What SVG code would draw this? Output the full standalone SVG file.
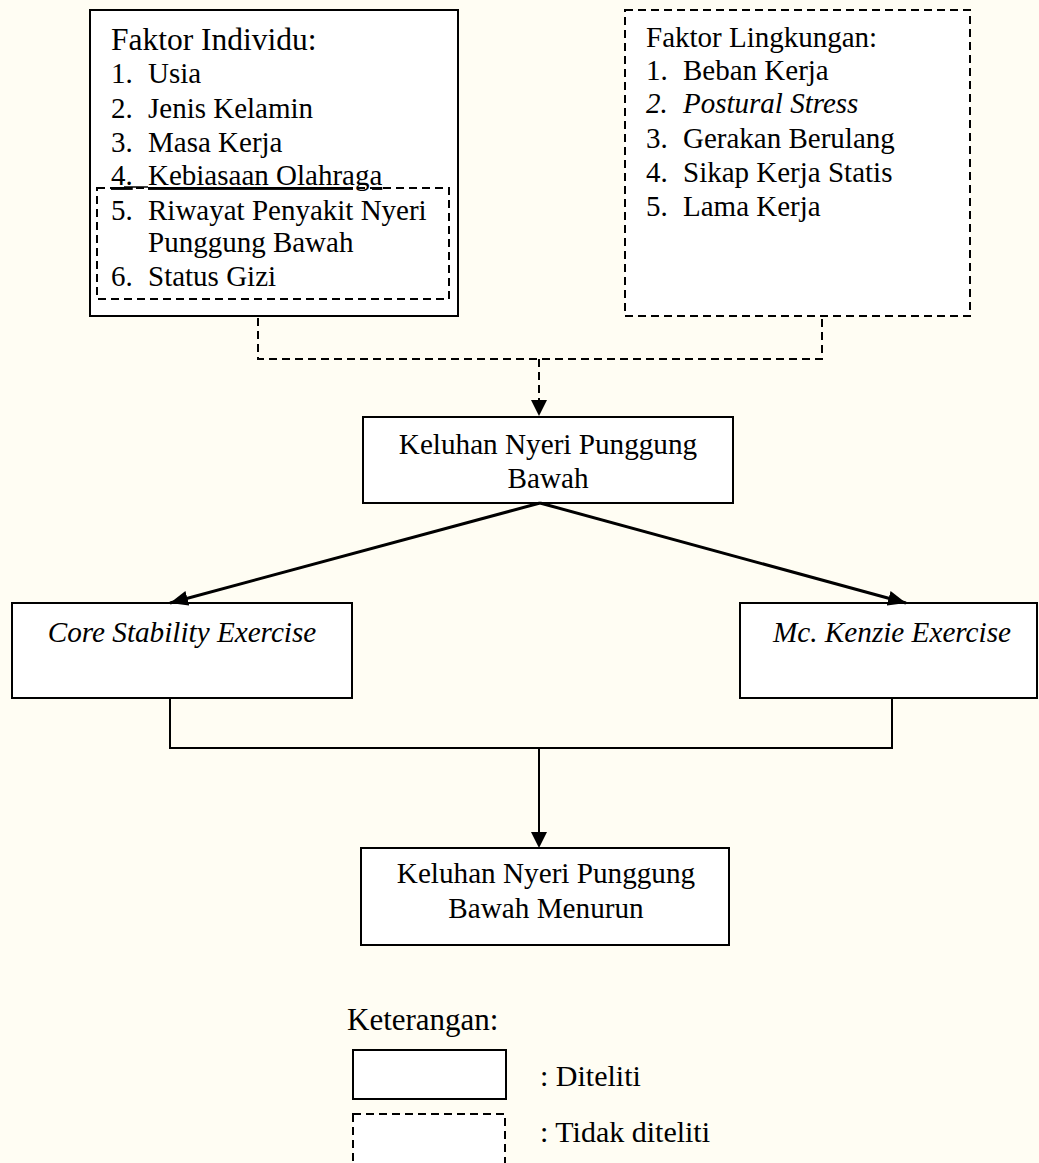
<svg xmlns="http://www.w3.org/2000/svg" width="1039" height="1163" viewBox="0 0 1039 1163">
<defs>
<marker id="ah" markerWidth="18" markerHeight="15" refX="18" refY="7.5" orient="auto" markerUnits="userSpaceOnUse"><path d="M0,0 L18,7.5 L0,15 Z" fill="#000"/></marker>
</defs>
<style>
.t{font-family:"Liberation Serif","Times New Roman",serif;fill:#000;font-size:29px}
.c{text-anchor:middle;font-size:29.2px}
.i{font-style:italic}
.box{fill:#fff;stroke:#000;stroke-width:2}
.dbox{fill:#fff;stroke:#000;stroke-width:2;stroke-dasharray:8 5}
.din{fill:none;stroke:#000;stroke-width:2;stroke-dasharray:8 5}
.dline{fill:none;stroke:#000;stroke-width:2;stroke-dasharray:8 5}
.line{fill:none;stroke:#000;stroke-width:2}
.arr{fill:none;stroke:#000;stroke-width:3}
</style>
<rect width="1039" height="1163" fill="#fffdf3"/>

<g id="faktor-individu">
<rect class="box" x="90" y="10" width="368" height="306"/>
<text class="t" x="111" y="50" style="font-size:31.5px">Faktor Individu:</text>
<text class="t" x="111" y="83">1.</text><text class="t" x="148" y="83">Usia</text>
<text class="t" x="111" y="118">2.</text><text class="t" x="148" y="118">Jenis Kelamin</text>
<text class="t" x="111" y="152">3.</text><text class="t" x="148" y="152">Masa Kerja</text>
<text class="t" x="111" y="185" text-decoration="underline">4.<tspan x="148">Kebiasaan Olahraga</tspan></text>
<line x1="124" y1="187" x2="148" y2="187" stroke="#000" stroke-width="1.5"/>
<text class="t" x="111" y="220">5.</text><text class="t" x="148" y="220">Riwayat Penyakit Nyeri</text>
<text class="t" x="148" y="252">Punggung Bawah</text>
<text class="t" x="111" y="286">6.</text><text class="t" x="148" y="286">Status Gizi</text>
<rect class="din" x="97" y="188" width="352" height="111"/>
</g>

<g id="faktor-lingkungan">
<rect class="dbox" x="625" y="10" width="345" height="306"/>
<text class="t" x="646" y="47">Faktor Lingkungan:</text>
<text class="t" x="646" y="80">1.</text><text class="t" x="683" y="80">Beban Kerja</text>
<text class="t i" x="646" y="113">2.</text><text class="t i" x="683" y="113">Postural Stress</text>
<text class="t" x="646" y="148">3.</text><text class="t" x="683" y="148">Gerakan Berulang</text>
<text class="t" x="646" y="182">4.</text><text class="t" x="683" y="182">Sikap Kerja Statis</text>
<text class="t" x="646" y="216">5.</text><text class="t" x="683" y="216">Lama Kerja</text>
</g>

<g id="keluhan">
<rect class="box" x="363" y="417" width="370" height="86"/>
<text class="t c" x="548" y="454">Keluhan Nyeri Punggung</text>
<text class="t c" x="548" y="488">Bawah</text>
</g>

<g id="core-stability">
<rect class="box" x="12" y="603" width="340" height="95"/>
<text class="t c i" x="182" y="642">Core Stability Exercise</text>
</g>

<g id="mckenzie">
<rect class="box" x="740" y="603" width="297" height="95"/>
<text class="t c i" x="892" y="642">Mc. Kenzie Exercise</text>
</g>

<g id="keluhan-menurun">
<rect class="box" x="361" y="848" width="368" height="97"/>
<text class="t c" x="546" y="883">Keluhan Nyeri Punggung</text>
<text class="t c" x="546" y="918">Bawah Menurun</text>
</g>

<g id="keterangan">
<text class="t" x="347" y="1030" style="font-size:31px">Keterangan:</text>
<rect class="box" x="353" y="1050" width="153" height="49"/>
<text class="t" x="540" y="1086" style="font-size:30px">: Diteliti</text>
<rect class="dbox" x="353" y="1114" width="152" height="60"/>
<text class="t" x="540" y="1142" style="font-size:30px">: Tidak diteliti</text>
</g>

<g id="connectors">
<path class="dline" d="M258,318 V359 H822 V318"/>
<line class="dline" x1="539" y1="359" x2="539" y2="401"/>
<path d="M531,400 L547,400 L539,416 Z" fill="#000"/>
<line class="arr" x1="540" y1="503" x2="170" y2="603" marker-end="url(#ah)"/>
<line class="arr" x1="540" y1="503" x2="906" y2="603" marker-end="url(#ah)"/>
<path class="line" d="M170,698 V748 H892 V698"/>
<line class="line" x1="539" y1="748" x2="539" y2="833"/>
<path d="M531,832 L547,832 L539,848 Z" fill="#000"/>
</g>
</svg>
